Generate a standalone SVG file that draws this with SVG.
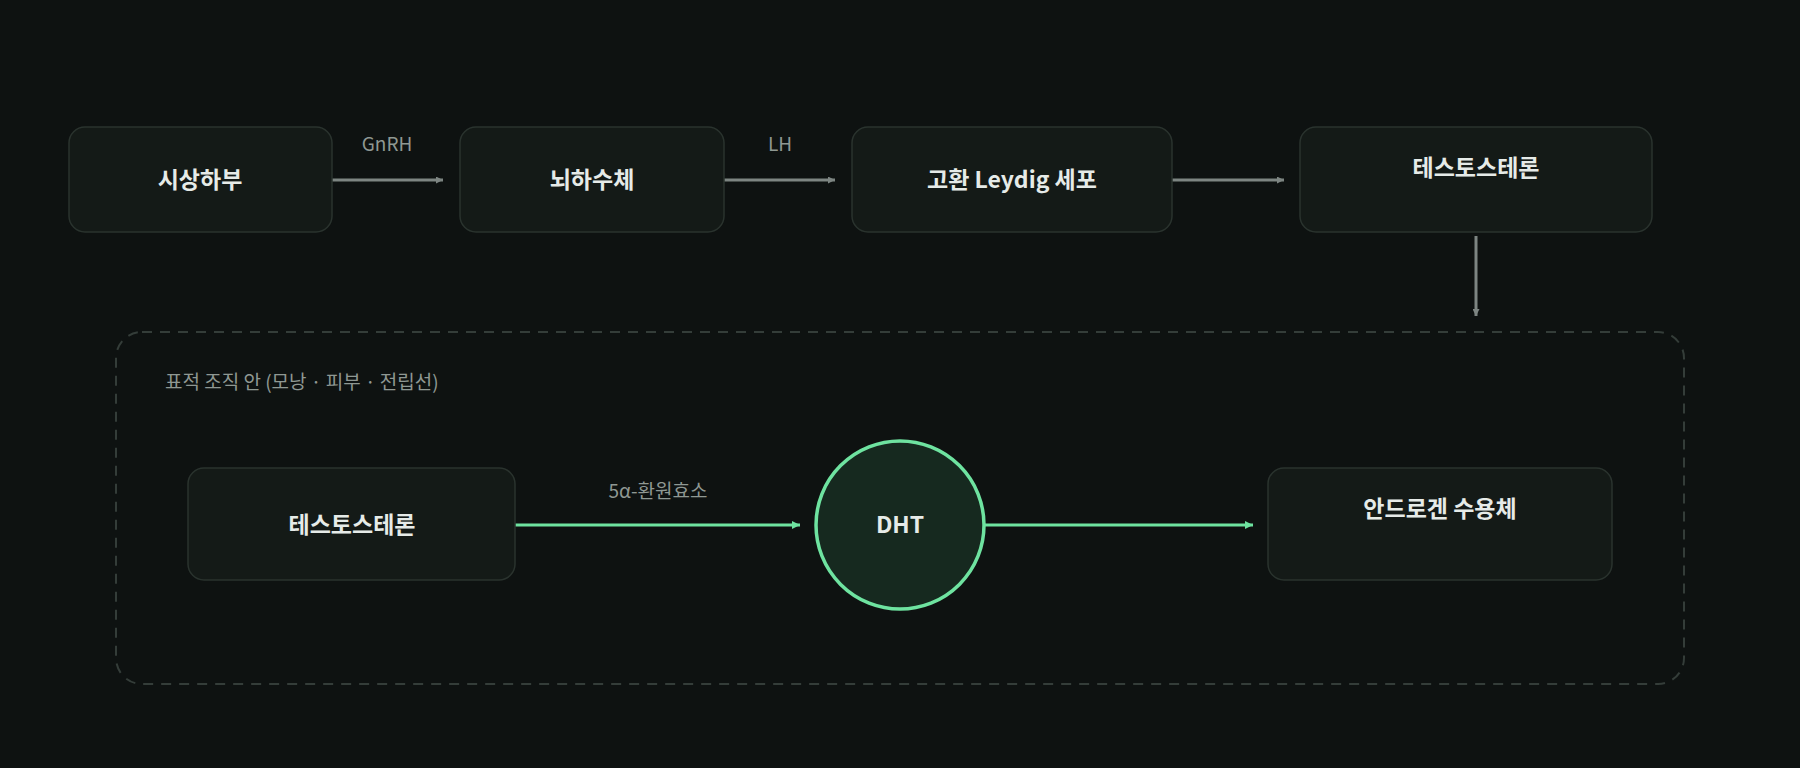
<svg xmlns="http://www.w3.org/2000/svg" width="1800" height="768" viewBox="0 0 1800 768">
<style>
.n{fill:#141a17;stroke:#2a332e;stroke-width:1.5}
.t{font-family:"Noto Sans CJK KR","Noto Sans",sans-serif;font-weight:700;font-size:23px;fill:#e6ebe8;text-anchor:middle}
.l{font-family:"Noto Sans CJK KR","Noto Sans",sans-serif;font-size:19px;fill:#8f9893;text-anchor:middle}
.g{stroke:#7d8582;stroke-width:3;fill:none}
.gr{stroke:#6ee3a0;stroke-width:3;fill:none}
</style>
<defs>
<marker id="ag" viewBox="0 0 10 10" refX="10" refY="5" markerWidth="7" markerHeight="7" markerUnits="userSpaceOnUse" orient="auto"><path d="M0,0L10,5L0,10z" fill="#7d8582"/></marker>
<marker id="agr" viewBox="0 0 10 10" refX="10" refY="5" markerWidth="8" markerHeight="8" markerUnits="userSpaceOnUse" orient="auto"><path d="M0,0L10,5L0,10z" fill="#6ee3a0"/></marker>
</defs>
<rect width="1800" height="768" fill="#0e1211"/>
<g id="container"><rect x="116" y="332" width="1568" height="352" rx="26" fill="none" stroke="#343d39" stroke-width="2" stroke-dasharray="10 8"/><text x="165" y="389" class="l" style="text-anchor:start">표적 조직 안 (모낭 · 피부 · 전립선)</text></g>
<g id="edges">
<path class="g" d="M332,180H443" marker-end="url(#ag)"/>
<path class="g" d="M724,180H835" marker-end="url(#ag)"/>
<path class="g" d="M1172,180H1284" marker-end="url(#ag)"/>
<path class="g" d="M1476,236V316" marker-end="url(#ag)"/>
<path class="gr" d="M515,525H800" marker-end="url(#agr)"/>
<path class="gr" d="M985,525H1253" marker-end="url(#agr)"/>
<text x="387" y="151" class="l">GnRH</text>
<text x="780" y="151" class="l">LH</text>
<text x="658" y="498" class="l">5α-환원효소</text>
</g>
<g id="n1"><rect class="n" x="69" y="127" width="263" height="105" rx="16"/><text class="t" x="200" y="188">시상하부</text></g>
<g id="n2"><rect class="n" x="460" y="127" width="264" height="105" rx="16"/><text class="t" x="592" y="188">뇌하수체</text></g>
<g id="n3"><rect class="n" x="852" y="127" width="320" height="105" rx="16"/><text class="t" x="1012" y="188">고환 Leydig 세포</text></g>
<g id="n4"><rect class="n" x="1300" y="127" width="352" height="105" rx="16"/><text class="t" x="1476" y="176">테스토스테론</text></g>
<g id="n5"><rect class="n" x="188" y="468" width="327" height="112" rx="16"/><text class="t" x="352" y="533">테스토스테론</text></g>
<g id="n6"><circle cx="900" cy="525" r="84" fill="#16291f" stroke="#6ee3a0" stroke-width="3.5"/><text class="t" x="900" y="533">DHT</text></g>
<g id="n7"><rect class="n" x="1268" y="468" width="344" height="112" rx="16"/><text class="t" x="1440" y="517">안드로겐 수용체</text></g>
</svg>
